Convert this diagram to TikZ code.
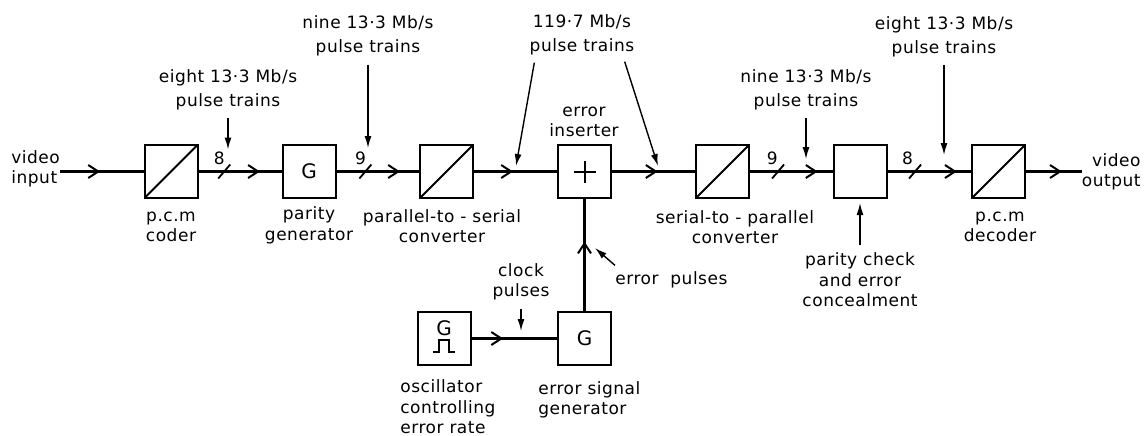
\documentclass[tikz,border=0pt]{standalone}
\usepackage{fontspec}
\setmainfont{DejaVu Sans}[LetterSpace=3]
\usetikzlibrary{arrows.meta}
\usetikzlibrary{decorations.markings}

\begin{document}
\begin{tikzpicture}[x=0.5pt,y=-0.5pt,
    blk/.style = {draw, line width=1pt, minimum width=26.5pt, minimum height=26.5pt, inner sep=0pt, font=\fontsize{10}{12}\selectfont},
    conv/.style = {blk, path picture={\draw[line width=1pt] (path picture bounding box.south west) -- (path picture bounding box.north east);}},
    txt/.style = {font=\fontsize{8.5}{10.2}\selectfont, align=center, inner sep=0pt},
    lbl/.style = {font=\fontsize{8.5}{12}\selectfont, align=center, inner sep=0pt},
    num/.style = {font=\fontsize{8.5}{10}\selectfont, inner sep=0pt, anchor=south, yshift=3pt},
    sig/.style = {line width=1.2pt, postaction={decorate, decoration={markings, mark=at position #1 with {\arrow{Straight Barb[length=5pt,width=6.5pt,line width=1pt]}}}}},
    bus/.style = {postaction={decorate, decoration={markings, mark=at position #1 with {\draw[line width=0.9pt] (-3pt,-3.5pt) -- (3pt,3.5pt);}}}},
    note/.style = {line width=0.7pt, -{Latex[length=6pt,width=3.5pt]}}]
  \useasboundingbox (0,0) rectangle (1145,435);

  % main chain
  \node[conv] (coder) at (171,171.5) {};
  \node[blk] (par) at (309,171.5) {G};
  \node[conv] (ps) at (446.5,171.5) {};
  \node[blk] (ins) at (584.5,171.5) {};
  \node[conv] (sp) at (722.5,171.5) {};
  \node[blk] (chk) at (860,171.5) {};
  \node[conv] (dec) at (998.5,171.5) {};
  \draw[line width=1pt] ([xshift=-5.5pt]ins.center) -- ([xshift=5.5pt]ins.center);
  \draw[line width=1pt] ([yshift=-5.5pt]ins.center) -- ([yshift=5.5pt]ins.center);

  % error path
  \node[blk] (esg) at (584.5,338.5) {G};
  \node[blk] (osc) at (444,338.5) {};
  \node[blk, draw=none, minimum size=0pt] (oscG) at (444,328) {G};
  \draw[line width=0.8pt] (433,352) -- (439,352) -- (439,340) -- (449,340) -- (449,352) -- (455,352);

  % texts
  \node[txt, anchor=west, align=left] (vin) at (11,169) {video\\input};
  \node[txt, anchor=east, align=right] (vout) at (1141,172) {video\\output};
  \node[txt] (coderlab) at (171,227) {p.c.m\\coder};
  \node[txt] (parlab) at (309,225.5) {parity\\generator};
  \node[txt] (pslab) at (442,226) {parallel-to - serial\\converter};
  \node[txt] (inslab) at (584,122) {error\\inserter};
  \node[txt] (splab) at (735,227) {serial-to - parallel\\converter};
  \node[txt] (chklab) at (860,280) {parity check\\and error\\concealment};
  \node[txt] (declab) at (1000,227) {p.c.m\\decoder};
  \node[txt, anchor=west, align=left] (osclab) at (400,407) {oscillator\\controlling\\error rate};
  \node[txt, anchor=west, align=left] (esglab) at (538,400) {error signal\\generator};
  \node[lbl] (n1) at (228,89.5) {eight 13·3 Mb/s\\pulse trains};
  \node[lbl] (n2) at (368,36) {nine 13·3 Mb/s\\pulse trains};
  \node[lbl] (n3) at (582,35) {119·7 Mb/s\\pulse trains};
  \node[lbl] (n4) at (806,89.5) {nine 13·3 Mb/s\\pulse trains};
  \node[lbl] (n5) at (944,36.5) {eight 13·3 Mb/s\\pulse trains};
  \node[txt] (clk) at (521,282) {clock\\pulses};
  \node[txt, anchor=west] (ep) at (615,280) {error\ \ pulses};

  % free ends
  \coordinate (in) at (60,171.5);
  \coordinate (out) at (1082,171.5);
  \coordinate (t1) at (228,149.5);
  \coordinate (t2) at (368,148);
  \coordinate (t3a) at (516,166);
  \coordinate (t3b) at (658,166);
  \coordinate (t4) at (806,159);
  \coordinate (t5) at (944,155);
  \coordinate (t6) at (521,331);
  \coordinate (t7) at (595,248);

  % signal lines
  \draw[sig=0.48] (in) -- (coder);
  \draw[sig=0.74, bus=0.31] (coder) -- node[num, pos=0.25] (b1) {8} (par);
  \draw[sig=0.77, bus=0.35] (par) -- node[num, pos=0.29] (b2) {9} (ps);
  \draw[sig=0.47] (ps) -- (ins);
  \draw[sig=0.55] (ins) -- (sp);
  \draw[sig=0.82, bus=0.34] (sp) -- node[num, pos=0.27] (b3) {9} (chk);
  \draw[sig=0.83, bus=0.33] (chk) -- node[num, pos=0.24] (b4) {8} (dec);
  \draw[sig=0.64] (dec) -- (out);
  \draw[sig=0.37] (osc) -- (esg);
  \draw[sig=0.62] (esg) -- (ins);

  % annotation arrows
  \draw[note, shorten <=4pt] (n1) -- (t1);
  \draw[note, shorten <=4pt] (n2) -- (t2);
  \draw[note] ([xshift=2.5pt,yshift=-3.5pt]n3.south west) -- (t3a);
  \draw[note] ([xshift=-5pt,yshift=-3pt]n3.south east) -- (t3b);
  \draw[note, shorten <=4pt] (n4) -- (t4);
  \draw[note, shorten <=4pt] (n5) -- (t5);
  \draw[note, shorten <=4pt] (clk) -- (t6);
  \draw[note] ([yshift=3pt]ep.north west) -- (t7);
  \draw[note, shorten <=4pt, shorten >=2pt] (chklab) -- (chk);
\end{tikzpicture}
\end{document}
